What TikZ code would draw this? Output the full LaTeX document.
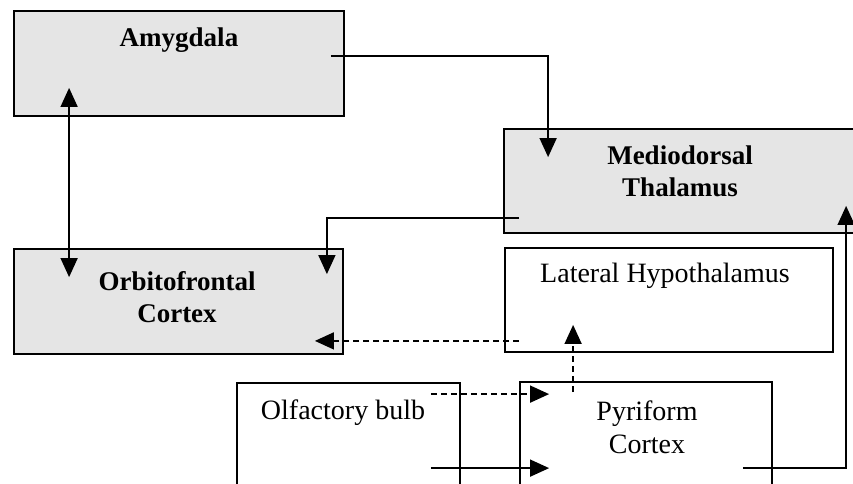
\documentclass[tikz,border=0pt]{standalone}
\usepackage{fontspec}
\setmainfont{Liberation Serif}
\usetikzlibrary{arrows.meta,calc}

\begin{document}
\begin{tikzpicture}[x=1pt,y=-1pt,
            box/.style={draw=black,line width=1.8pt,rectangle,inner sep=0pt},
            shaded/.style={box,fill=black!10},
            lbl/.style={font=\fontsize{28}{33}\selectfont,align=center,inner sep=0pt},
            boldlbl/.style={font=\fontsize{27}{32}\selectfont\bfseries,align=center,inner sep=0pt},
            tip/.style={-{Triangle[length=19pt,width=17pt]}},
            arr/.style={line width=1.5pt,tip},
            darr/.style={arr,dash pattern=on 6pt off 4pt}]
            \useasboundingbox (0,0) rectangle (853,483);
            \clip (0,0) rectangle (853,483);
            \fill[white] (0,0) rectangle (853,483);
            \node[shaded,minimum width=330pt,minimum height=105pt] (amyg) at (179,63.5) {};
            \node[shaded,minimum width=329pt,minimum height=105pt] (orbito) at (178.5,301.5) {};
            \node[shaded,minimum width=370pt,minimum height=104pt] (medio) at (689,181) {};
            \node[box,minimum width=328pt,minimum height=104pt] (lathyp) at (669,300) {};
            \node[box,minimum width=223pt,minimum height=150pt] (olf) at (348.5,458) {};
            \node[box,minimum width=252pt,minimum height=150pt] (pyri) at (646,457) {};
            \node[boldlbl] (amyglbl) at (179,40) {Amygdala};
            \node[boldlbl] (mediolbl) at (680,171) {Mediodorsal\\Thalamus};
            \node[boldlbl] (orbitolbl) at (177,297) {Orbitofrontal\\Cortex};
            \node[lbl] (lathyplbl) at (665,276) {Lateral Hypothalamus};
            \node[lbl] (olflbl) at (343,413) {Olfactory bulb};
            \node[lbl] (pyrilbl) at (647,427) {Pyriform\\Cortex};
            \draw[arr] ($(amyg.east)+(-14,-7.5)$) -| ($(medio.north west)+(45,29)$);
            \draw[arr] ($(medio.south west)+(16,-16)$) -| ($(orbito.north east)+(-17,26)$);
            \draw[arr,{Triangle[length=19pt,width=17pt]}-{Triangle[length=19pt,width=17pt]}] ($(amyg.south west)+(56,-29)$) -- ($(orbito.north west)+(56,29)$);
            \draw[darr] ($(lathyp.south west)+(15,-12)$) -- ($(orbito.south east)+(-29,-14)$);
            \draw[darr] ($(olf.north east)+(-30,12)$) -- ($(pyri.north west)+(30,13)$);
            \draw[arr] ($(olf.north east)+(-30,86)$) -- ($(pyri.north west)+(30,87)$);
            \draw[darr] ($(pyri.north west)+(54,11)$) -- ($(lathyp.south west)+(69,-28)$);
            \draw[arr] ($(pyri.north east)+(-30,87)$) -| ($(medio.south west)+(343,-28)$);
          \end{tikzpicture}
\end{document}
